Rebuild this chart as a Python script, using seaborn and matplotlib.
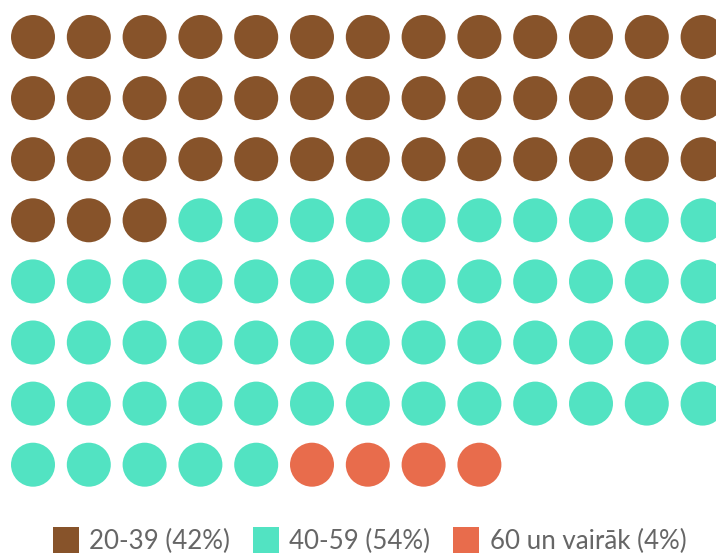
import matplotlib
matplotlib.use("Agg")
import matplotlib.pyplot as plt
from matplotlib.lines import Line2D
import seaborn as sns
import pandas as pd

categories = ["20-39", "40-59", "60 un vairāk"]
percents = [42, 54, 4]
colors = ["#87532A", "#52E3C2", "#E86C4C"]
legend_labels = ["20-39 (42%)", "40-59 (54%)", "60 un vairāk (4%)"]
ncols = 13

sns.set_style("white")
plt.rcParams['font.family'] = ['Lato', 'DejaVu Sans']

rows = []
idx = 0
for cat, n in zip(categories, percents):
    for _ in range(n):
        rows.append({"col": idx % ncols, "row": idx // ncols, "category": cat})
        idx += 1
df = pd.DataFrame(rows)

W, H = 716, 553
fig = plt.figure(figsize=(W / 100, H / 100), dpi=100)
ax = fig.add_axes([0, 0, 1, 1])

x0, dx = 33.0, 55.8
y0, dy = 37.0, 61.1
diam_pt = 44 * 72 / 100

sns.scatterplot(data=df, x="col", y="row", hue="category", palette=colors,
                hue_order=categories, s=diam_pt ** 2, linewidth=0, legend=False, ax=ax)

ax.set_xlim(-x0 / dx, (W - x0) / dx)
ax.set_ylim((H - y0) / dy, -y0 / dy)
ax.axis("off")

fs = 18.6
sq = 18.7
handles = [Line2D([0], [0], marker="s", linestyle="none", markersize=sq,
                  markerfacecolor=c, markeredgewidth=0) for c in colors]
fig.legend(handles, legend_labels, loc="center left", ncol=3,
           bbox_to_anchor=(52.7 / W, 1 - 541 / H), frameon=False,
           fontsize=fs, labelcolor="#666666", handlelength=sq / fs,
           handletextpad=7.5 / fs, columnspacing=16.5 / fs, borderpad=0, borderaxespad=0)

fig.savefig("out.png", dpi=100)
